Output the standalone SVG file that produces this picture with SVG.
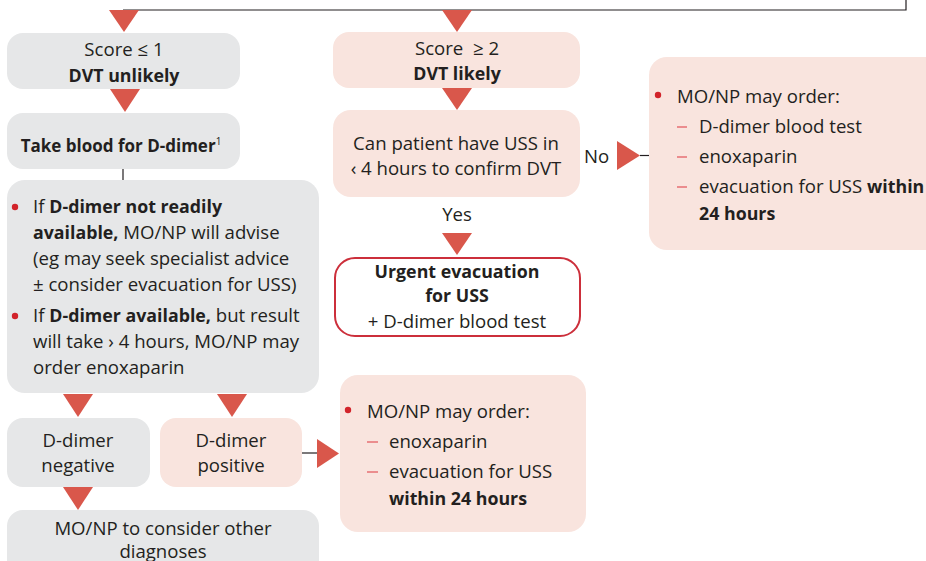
<svg xmlns="http://www.w3.org/2000/svg" width="926" height="561" viewBox="0 0 926 561">
<style>
text{font-family:"Open Sans","Liberation Sans",sans-serif;font-size:18.6px;fill:#231f20}
.c{text-anchor:middle}
.b{font-weight:bold;font-size:17.8px}
.g{fill:#e6e7e8}
.p{fill:#f9e4de}
.tri{fill:#d9574b}
.ln{stroke:#231f20;stroke-width:1.2;fill:none}
.dot{fill:#d2232a}
.dash{stroke:#e8767a;stroke-width:1.6}
</style>
<g id="connectors">
<polyline class="ln" points="123,10 906,10 906,0"/>
<line class="ln" x1="123" y1="169" x2="123" y2="180"/>
<line class="ln" x1="302" y1="453" x2="317" y2="453"/>
<line class="ln" x1="640" y1="155.5" x2="650" y2="155.5"/>
<polygon class="tri" points="109,10 139,10 124,32"/>
<polygon class="tri" points="442,10 472,10 457,32"/>
<polygon class="tri" points="110,89 140,89 125,112"/>
<polygon class="tri" points="442,88 472,88 457,110"/>
<polygon class="tri" points="442,233 472,233 457,255"/>
<polygon class="tri" points="617,141 617,170 640,155.5"/>
<polygon class="tri" points="63,394 93,394 78,417"/>
<polygon class="tri" points="217,394 247,394 232,417"/>
<polygon class="tri" points="63,487 93,487 78,510"/>
<polygon class="tri" points="317,439 317,468 339,453.5"/>
</g>
<g id="score-low">
<rect class="g" x="7" y="33" width="233" height="56" rx="16"/>
<text class="c" x="124" y="56">Score ≤ 1</text>
<text class="c b" x="124" y="82">DVT unlikely</text>
</g>
<g id="take-blood">
<rect class="g" x="7" y="113" width="233" height="56" rx="16"/>
<text class="c b" x="121" y="152" style="font-size:17px">Take blood for D-dimer<tspan font-size="10" font-weight="normal" dy="-7">1</tspan></text>
</g>
<g id="ddimer-avail">
<rect class="g" x="7" y="180" width="312" height="213" rx="18"/>
<circle class="dot" cx="15" cy="207" r="3.2"/>
<text x="33" y="213">If <tspan class="b">D-dimer not readily</tspan></text>
<text x="33" y="239"><tspan class="b">available,</tspan> MO/NP will advise</text>
<text x="33" y="265">(eg may seek specialist advice</text>
<text x="33" y="291">± consider evacuation for USS)</text>
<circle class="dot" cx="15" cy="316" r="3.2"/>
<text x="33" y="322">If <tspan class="b">D-dimer available,</tspan> but result</text>
<text x="33" y="348">will take › 4 hours, MO/NP may</text>
<text x="33" y="374">order enoxaparin</text>
</g>
<g id="neg">
<rect class="g" x="7" y="418" width="143" height="69" rx="16"/>
<text class="c" x="78" y="447">D-dimer</text>
<text class="c" x="78" y="472">negative</text>
</g>
<g id="pos">
<rect class="p" x="160" y="418" width="142" height="69" rx="16"/>
<text class="c" x="231" y="447">D-dimer</text>
<text class="c" x="231" y="472">positive</text>
</g>
<g id="other">
<rect class="g" x="7" y="510" width="312" height="70" rx="16"/>
<text class="c" x="163" y="535">MO/NP to consider other</text>
<text class="c" x="163" y="558">diagnoses</text>
</g>
<g id="pos-order">
<rect class="p" x="340" y="375" width="246" height="157" rx="18"/>
<circle class="dot" cx="348" cy="410" r="3.2"/>
<text x="367" y="418">MO/NP may order:</text>
<line class="dash" x1="367" y1="442" x2="378" y2="442"/>
<text x="389" y="448">enoxaparin</text>
<line class="dash" x1="367" y1="472" x2="378" y2="472"/>
<text x="389" y="478">evacuation for USS</text>
<text class="b" x="389" y="505">within 24 hours</text>
</g>
<g id="score-high">
<rect class="p" x="333" y="32" width="247" height="56" rx="16"/>
<text class="c" x="457" y="55" xml:space="preserve">Score  ≥ 2</text>
<text class="c b" x="457" y="80">DVT likely</text>
</g>
<g id="can-uss">
<rect class="p" x="333" y="110" width="247" height="87" rx="18"/>
<text class="c" x="456" y="150">Can patient have USS in</text>
<text class="c" x="456" y="175">‹ 4 hours to confirm DVT</text>
</g>
<text x="584" y="163">No</text>
<text class="c" x="457" y="221">Yes</text>
<g id="urgent">
<rect x="335" y="258" width="245" height="78" rx="20" fill="#fff" stroke="#cc2f3b" stroke-width="2"/>
<text class="c b" x="457" y="278">Urgent evacuation</text>
<text class="c b" x="457" y="302">for USS</text>
<text class="c" x="457" y="328">+ D-dimer blood test</text>
</g>
<g id="no-order">
<rect class="p" x="649" y="57" width="300" height="193" rx="18"/>
<circle class="dot" cx="658" cy="95" r="3.2"/>
<text x="677" y="103">MO/NP may order:</text>
<line class="dash" x1="677" y1="127" x2="687" y2="127"/>
<text x="699" y="133">D-dimer blood test</text>
<line class="dash" x1="677" y1="157" x2="687" y2="157"/>
<text x="699" y="163">enoxaparin</text>
<line class="dash" x1="677" y1="187" x2="687" y2="187"/>
<text x="699" y="193">evacuation for USS <tspan class="b">within</tspan></text>
<text class="b" x="699" y="220">24 hours</text>
</g>
</svg>
